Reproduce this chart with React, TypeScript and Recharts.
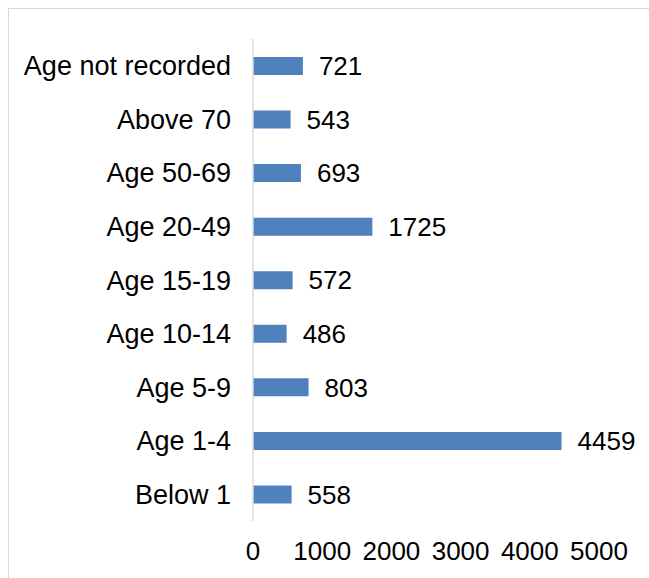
import { BarChart, Bar, XAxis, YAxis, LabelList } from "recharts";

const categories = [
  "Age not recorded",
  "Above 70",
  "Age 50-69",
  "Age 20-49",
  "Age 15-19",
  "Age 10-14",
  "Age 5-9",
  "Age 1-4",
  "Below 1",
];
const counts = [721, 543, 693, 1725, 572, 486, 803, 4459, 558];
const xTicks = [0, 1000, 2000, 3000, 4000, 5000];

const data = categories.map((name, i) => ({ name, value: counts[i] }));

const FONT = "'Liberation Sans', Arial, sans-serif";

export default function App() {
  return (
    <div
      style={{
        position: "fixed",
        left: 8,
        top: 8,
        width: 641,
        height: 570,
        overflow: "hidden",
        background: "#fff",
      }}
    >
      <div
        style={{
          width: 700,
          height: 600,
          borderTop: "1px solid #d9d9d9",
          borderLeft: "1px solid #d9d9d9",
          boxSizing: "border-box",
        }}
      >
        <BarChart
          width={640}
          height={569}
          data={data}
          layout="vertical"
          margin={{ top: 30, right: 50, bottom: 0, left: 0 }}
          barCategoryGap="33%"
        >
          <XAxis
            type="number"
            domain={[0, 5000]}
            ticks={xTicks}
            axisLine={false}
            tickLine={false}
            tickSize={0}
            tickMargin={21}
            height={57}
            tick={{ fill: "#000", fontSize: 26, fontFamily: FONT }}
          />
          <YAxis
            type="category"
            dataKey="name"
            width={244}
            axisLine={{ stroke: "#d9d9d9", strokeWidth: 1.5 }}
            tickLine={false}
            tickSize={0}
            tickMargin={22}
            interval={0}
            tick={{ fill: "#000", fontSize: 27, fontFamily: FONT }}
          />
          <Bar dataKey="value" fill="#4f81bd" barSize={18} isAnimationActive={false}>
            <LabelList
              dataKey="value"
              position="right"
              offset={16}
              fill="#000"
              fontSize={26}
              fontFamily={FONT}
            />
          </Bar>
        </BarChart>
      </div>
    </div>
  );
}
